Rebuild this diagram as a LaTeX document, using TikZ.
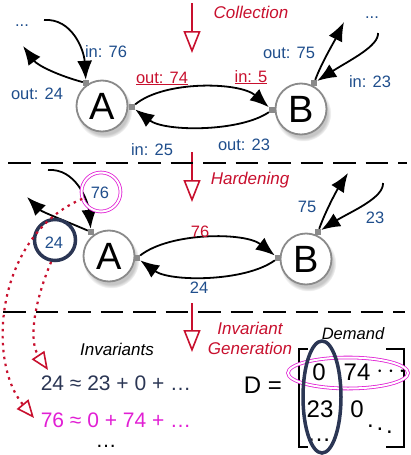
\documentclass[tikz,border=0pt]{standalone}
\usepackage{fontspec}
\setmainfont{Liberation Sans}
\setsansfont{Liberation Sans}
\usetikzlibrary{arrows.meta,shadows,shapes.geometric}
\definecolor{lblue}{HTML}{1F4E8C}
\definecolor{cred}{HTML}{C8102E}
\definecolor{navy}{HTML}{2B3654}
\definecolor{mag}{HTML}{E11FD4}
\definecolor{ngray}{HTML}{8A8A8A}
\tikzset{
  st/.style={circle, draw=ngray, line width=1.8pt, fill=white, minimum size=51pt, inner sep=0pt,
    font=\fontsize{38}{40}\selectfont,
    circular drop shadow={shadow xshift=2pt, shadow yshift=-4pt, opacity=0.45}},
  anc/.style={rectangle, fill=ngray, minimum size=6pt, inner sep=0pt},
  lbl/.style={text=lblue, font=\fontsize{16.5}{18}\selectfont, inner sep=0pt, anchor=base},
  rlbl/.style={text=cred, font=\fontsize{16.5}{18}\selectfont, inner sep=0pt, anchor=base},
  phase/.style={text=cred, font=\itshape\fontsize{17}{20}\selectfont, inner sep=0pt, anchor=base},
  edge/.style={line width=1.8pt, -{Latex[length=19pt,width=15pt]}},
  stage/.style={draw=cred, line width=1.6pt, -{Triangle[open,length=22pt,width=17pt,line width=1.6pt]}},
  sep/.style={line width=2.4pt, dash pattern=on 22.5pt off 10pt},
  dots/.style={draw=cred, line width=2.2pt, dash pattern=on 2.5pt off 4.5pt,
    -{Triangle[open,length=18pt,width=15pt,line width=1.6pt]}},
  eq/.style={font=\fontsize{21}{24}\selectfont, inner sep=0pt, anchor=base},
  mat/.style={font=\fontsize{24}{26}\selectfont, inner sep=0pt, anchor=base},
}
\begin{document}
\begin{tikzpicture}[x=1pt,y=-1pt]
\useasboundingbox (0,0) rectangle (411,455);

% ---------- stage arrows and separators ----------
\coordinate (s1a) at (192,3);   \coordinate (s1b) at (192,53);
\coordinate (s2a) at (192,152); \coordinate (s2b) at (192,202);
\coordinate (s3a) at (192,303); \coordinate (s3b) at (192,352);
\draw[stage] (s1a) -- (s1b);
\draw[stage] (s2a) -- (s2b);
\draw[stage] (s3a) -- (s3b);
\coordinate (d1a) at (8,163);  \coordinate (d1b) at (407,163);
\coordinate (d2a) at (3,312);  \coordinate (d2b) at (405,312);
\draw[sep] (d1a) -- (d1b);
\draw[sep] (d2a) -- (d2b);
\node[phase] (ph1) at (251,19) {Collection};
\node[phase] (ph2) at (250,184) {Hardening};
\node[phase, align=center, anchor=center] (ph3) at (250,338) {Invariant\\Generation};

% ---------- section 1 ----------
\node[st] (A1) at (102,106) {A};
\node[st] (B1) at (301,109) {B};
\node[anc] (A1t) at (86,83) {};
\node[anc] (A1r) at (132,107) {};
\node[anc] (B1l) at (272,110) {};
\node[anc] (B1t) at (314,83) {};
\coordinate (i1) at (44,20);
\coordinate (o1) at (23,46);
\coordinate (o2) at (344,22);
\coordinate (i2) at (378,33);
\draw[edge] (i1) .. controls (72,18) and (84,50) .. (A1t);
\draw[edge] (A1t) .. controls (60,76) and (38,66) .. (o1);
\draw[edge] (A1r) .. controls (165,80) and (240,82) .. (B1l);
\draw[edge] (B1l) .. controls (240,132) and (165,132) .. (A1r);
\draw[edge] (B1t) .. controls (322,62) and (334,42) .. (o2);
\draw[edge] (i2) .. controls (379,46) and (350,60) .. (B1t);

\node[lbl] (l1) at (22,26) {...};
\node[lbl] (l2) at (106,57) {in: 76};
\node[lbl] (l3) at (37,99) {out: 24};
\node[rlbl] (l4) at (162,83) {\underline{out: 74}};
\node[rlbl] (l5) at (251,82) {\underline{in: 5}};
\node[lbl] (l6) at (289,58) {out: 75};
\node[lbl] (l7) at (372,19) {...};
\node[lbl] (l8) at (370,87) {in: 23};
\node[lbl] (l9) at (244,150) {out: 23};
\node[lbl] (l10) at (152,155) {in: 25};

% ---------- section 2 ----------
\node[st] (A2) at (109,256) {A};
\node[st] (B2) at (306,259) {B};
\node[anc] (A2t) at (91,232) {};
\node[anc] (A2r) at (137,258) {};
\node[anc] (B2l) at (278,258) {};
\node[anc] (B2t) at (318,232) {};
\coordinate (i3) at (48,170);
\coordinate (o3) at (27,197);
\coordinate (o4) at (348,173);
\coordinate (i4) at (383,183);
\draw[edge] (i3) .. controls (75,168) and (88,200) .. (A2t);
\draw[edge] (A2t) .. controls (68,222) and (42,212) .. (o3);
\draw[edge] (A2r) .. controls (170,232) and (245,232) .. (B2l);
\draw[edge] (B2l) .. controls (245,282) and (170,282) .. (A2r);
\draw[edge] (B2t) .. controls (326,210) and (337,190) .. (o4);
\draw[edge] (i4) .. controls (384,198) and (350,212) .. (B2t);

\node[rlbl] (m1) at (200,237) {76};
\node[lbl] (m2) at (199,293) {24};
\node[lbl] (m3) at (307,212) {75};
\node[lbl] (m4) at (375,223) {23};

\node[circle, draw=mag, double=white, double distance=2pt, line width=0.8pt,
  minimum size=39pt, inner sep=0pt] (h76) at (101,192) {};
\node[lbl] (h76t) at (100,198) {76};
\node[circle, draw=navy, line width=3.5pt, minimum size=41pt, inner sep=0pt] (h24) at (55,240) {};
\node[lbl] (h24t) at (54,248) {24};

\coordinate (t76) at (34,418);
\coordinate (t24) at (48,370);
\draw[dots] (h76.200) .. controls (-4,235) and (-14,360) .. (t76);
\draw[dots] (h24.260) .. controls (35,300) and (28,340) .. (t24);

% ---------- section 3 ----------
\node[font=\itshape\fontsize{17}{19}\selectfont, inner sep=0pt, anchor=base] (inv) at (117,355) {Invariants};
\node[eq, text=navy] (eq1) at (116,390) {24 ≈ 23 + 0 + …};
\node[eq, text=mag] (eq2) at (116,427) {76 ≈ 0 + 74 + …};
\node[eq] (eq3) at (106,447) {…};

\node[font=\itshape\fontsize{16.5}{19}\selectfont, inner sep=0pt, anchor=base] (dem) at (353,339) {Demand};
\node[mat] (Dq) at (263,393) {D =};
\draw[line width=2.6pt] (308,349) -- (299,349) -- (299,447) -- (308,447);
\draw[line width=2.6pt] (386,349) -- (404,349) -- (404,447) -- (386,447);
\node[mat] (e11) at (319,380) {0};
\node[mat] (e12) at (357,380) {74};
\node[mat, anchor=center] (e13) at (391,372) {$\cdots$};
\node[mat] (e21) at (320,417) {23};
\node[mat] (e22) at (357,417) {0};
\node[mat] (e31) at (319,441) {…};
\node[mat, anchor=center] (e32) at (380,426) {$\ddots$};

\node[ellipse, draw=mag, double=white, double distance=2pt, line width=0.8pt,
  minimum width=120pt, minimum height=31pt, inner sep=0pt] (row1) at (348,373) {};
\node[ellipse, draw=navy, line width=3.5pt, minimum width=38pt, minimum height=112pt,
  inner sep=0pt] (col1) at (322,397) {};
\end{tikzpicture}
\end{document}
